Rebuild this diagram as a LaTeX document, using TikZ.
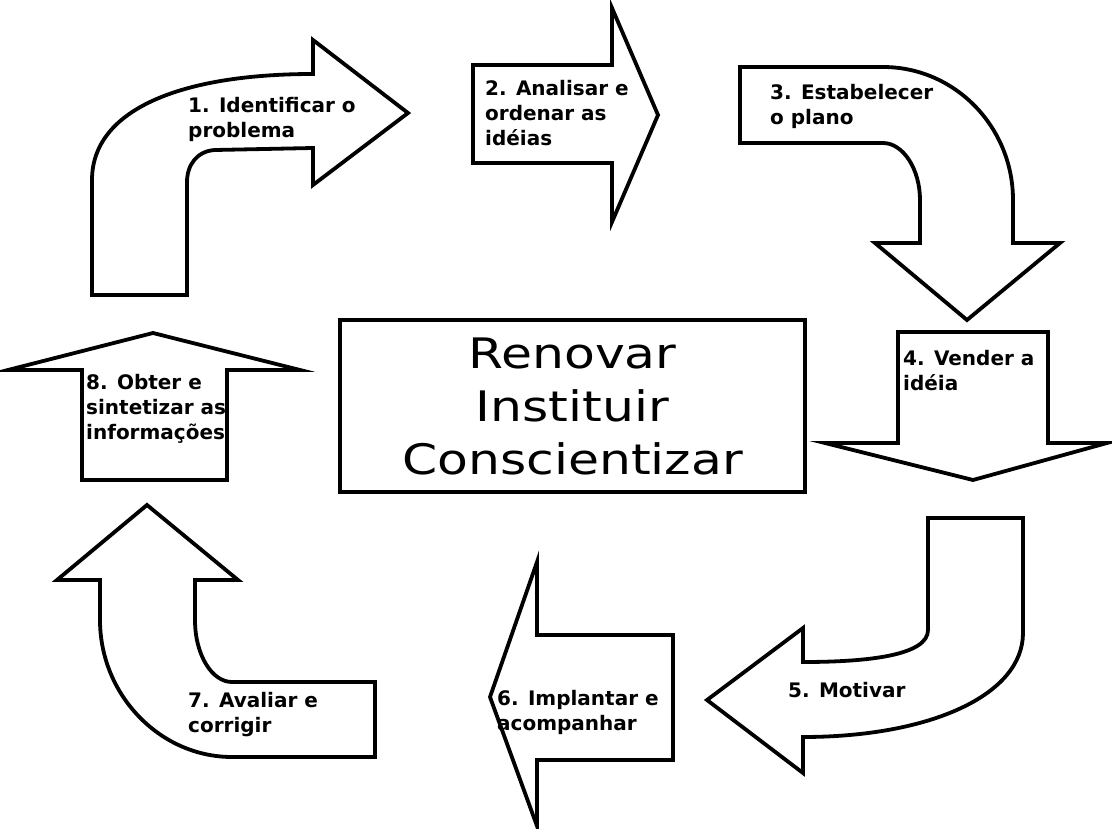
\documentclass[tikz,border=0pt]{standalone}
\usepackage{fontspec}
\setmainfont{DejaVu Sans}
\newfontfamily\lblfont{DejaVu Sans}
\newfontfamily\ctrfont[FakeStretch=1.2]{DejaVu Sans}
\begin{document}
\begin{tikzpicture}[x=1pt,y=-1pt,
  shapeline/.style={draw=black,fill=white,line width=3.8pt,line join=miter},
  lbl/.style={anchor=north west,inner sep=0pt,align=left,
    font=\lblfont\bfseries\fontsize{20}{25}\selectfont},
  ctrbox/.style={draw=black,line width=3.8pt,minimum width=465pt,minimum height=172pt,
    align=center,font=\ctrfont\fontsize{42}{53}\selectfont}]
\useasboundingbox[fill=white] (0,0) rectangle (1112,829);
% arrow 1
\draw[shapeline] (92,295) -- (92,180) .. controls (92,110) and (180,74) .. (313,74)
  -- (313,40) -- (408,113) -- (313,185) -- (313,148) -- (215,150)
  .. controls (197,151) and (187,165) .. (187,182) -- (187,295) -- cycle;
% arrow 2
\draw[shapeline] (473,65) -- (612,65) -- (612,8) -- (658,115) -- (612,222) -- (612,163) -- (473,163) -- cycle;
% arrow 3
\draw[shapeline] (740,67) -- (883,67) .. controls (955,67) and (1013,127) .. (1013,200)
  -- (1013,243) -- (1060,243) -- (967,320) -- (875,243) -- (920,243) -- (920,200)
  .. controls (920,169) and (903,143) .. (883,143) -- (740,143) -- cycle;
% arrow 4
\draw[shapeline] (898,332) -- (1048,332) -- (1048,443) -- (1107,443) -- (973,480) -- (825,443) -- (898,443) -- cycle;
% arrow 5
\draw[shapeline] (928,518) -- (1023,518) -- (1023,633) .. controls (1023,695) and (930,737) .. (803,737)
  -- (803,773) -- (707,700) -- (803,628) -- (803,662)
  .. controls (870,662) and (928,655) .. (928,630) -- cycle;
% arrow 6
\draw[shapeline] (673,635) -- (673,760) -- (537,760) -- (537,826) -- (490,697) -- (537,562) -- (537,635) -- cycle;
% arrow 7
\draw[shapeline] (100,580) -- (57,580) -- (147,505) -- (238,580) -- (195,580) -- (195,620)
  .. controls (195,655) and (212,682) .. (232,682) -- (375,682) -- (375,757) -- (232,757)
  .. controls (160,757) and (100,695) .. (100,620) -- cycle;
% arrow 8
\draw[shapeline] (82,480) -- (82,370) -- (8,370) -- (153,333) -- (300,370) -- (227,370) -- (227,480) -- cycle;
% centre box
\node[ctrbox] (centre) at (572.5,406) {Renovar\\Instituir\\Conscientizar};
% labels
\node[lbl] (l1) at (188,97) {1. Identificar o\\problema};
\node[lbl] (l2) at (485,80) {2. Analisar e\\ordenar as\\idéias};
\node[lbl] (l3) at (770,84) {3. Estabelecer\\o plano};
\node[lbl] (l4) at (903,350) {4. Vender a\\idéia};
\node[lbl] (l5) at (788,682) {5. Motivar};
\node[lbl] (l6) at (497,690) {6. Implantar e\\acompanhar};
\node[lbl] (l7) at (188,692) {7. Avaliar e\\corrigir};
\node[lbl] (l8) at (86,374) {8. Obter e\\sintetizar as\\informações};
\end{tikzpicture}
\end{document}
